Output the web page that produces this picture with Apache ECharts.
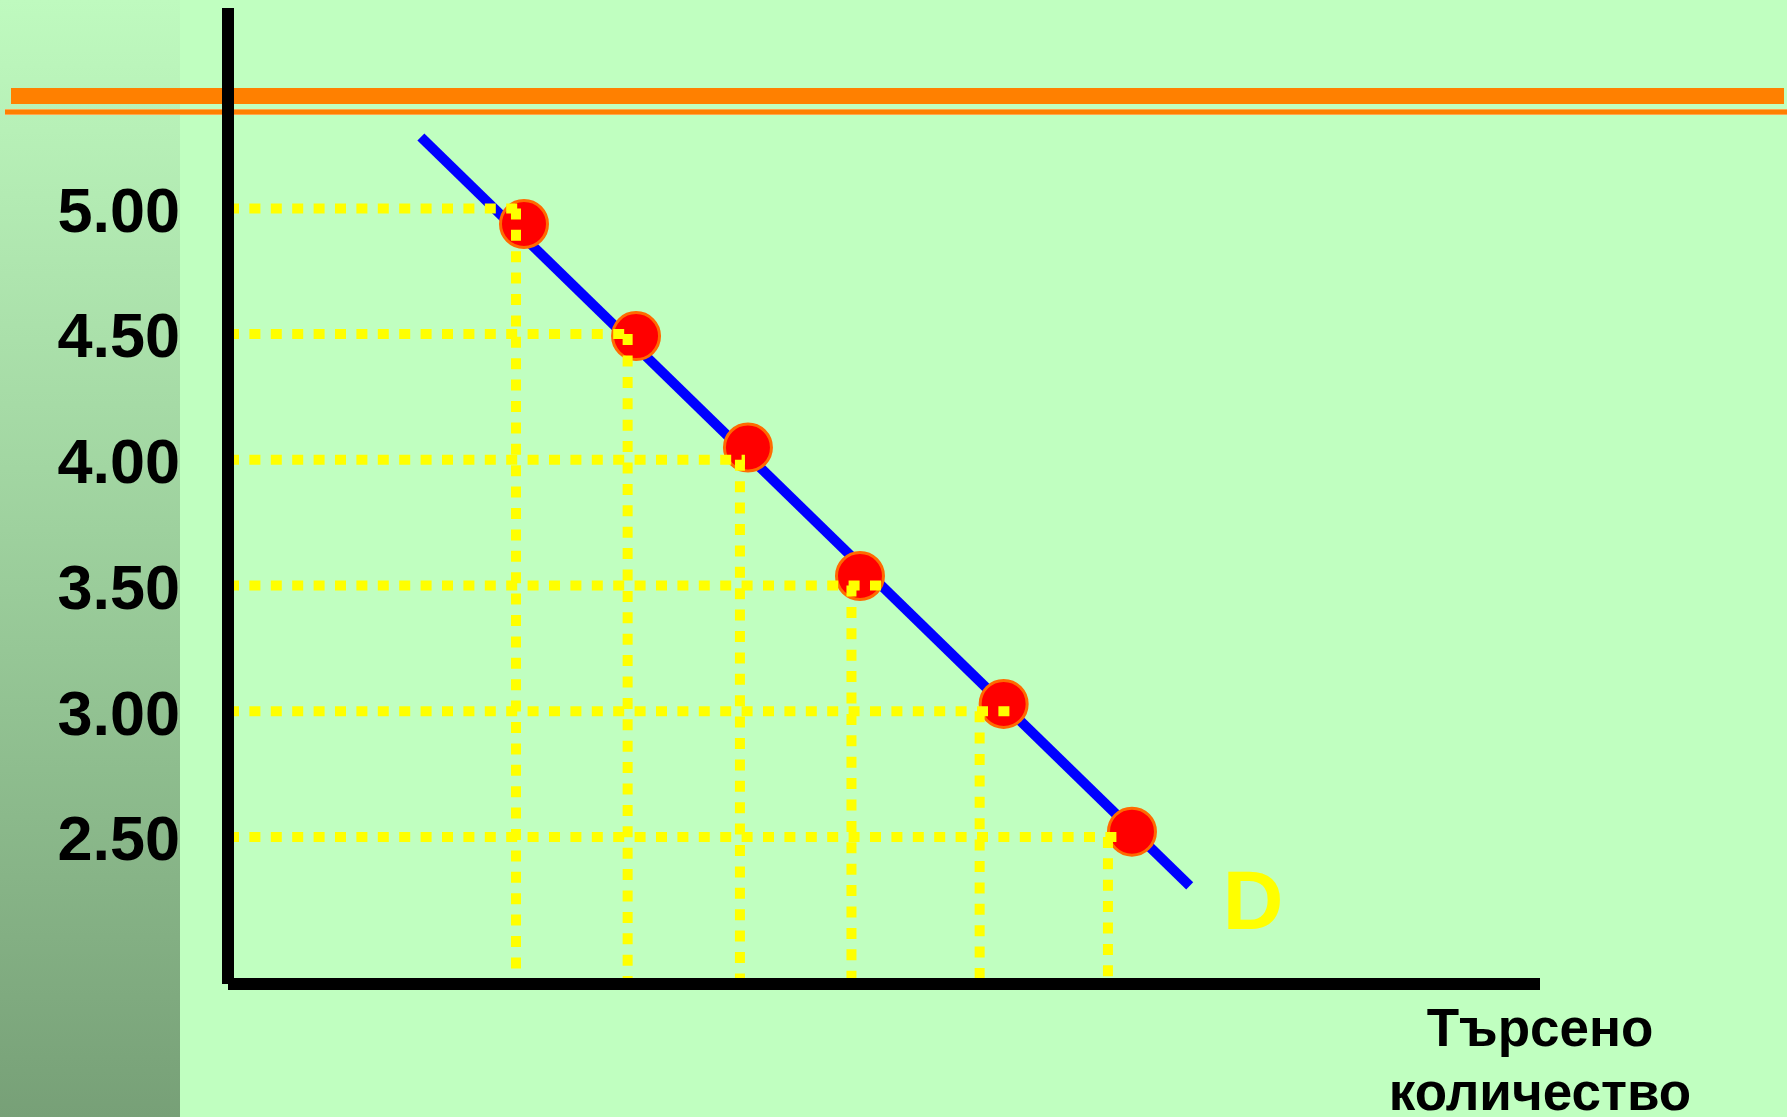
<!DOCTYPE html>
<html>
<head>
<meta charset="utf-8">
<script src="https://cdn.jsdelivr.net/npm/echarts@6/dist/echarts.min.js"></script>
<style>
  html, body { margin: 0; padding: 0; }
  #stage { position: relative; width: 1787px; height: 1117px; background: #C0FFC0; overflow: hidden; }
  #strip { position: absolute; left: 0; top: 0; width: 180px; height: 1117px;
           background: linear-gradient(to bottom, #BFFABF 0%, #A2D6A2 42%, #77A077 100%); }
  #barThick { position: absolute; left: 11px; top: 88px; width: 1773px; height: 16px; background: #FF8000; }
  #barThin { position: absolute; left: 5px; top: 109px; width: 1782px; height: 6px; background: #FF8000;
             box-shadow: inset 0 1px 0 #FFA64D, inset 0 -1px 0 #FFA64D; }
  #chart { position: absolute; left: 0; top: 0; width: 1787px; height: 1117px; }
</style>
</head>
<body>
<div id="stage">
  <div id="strip"></div>
  <div id="barThick"></div>
  <div id="barThin"></div>
  <div id="chart"></div>
</div>
<script>
// ---- data ----
const priceTicks = [5.00, 4.50, 4.00, 3.50, 3.00, 2.50];
const guideQ     = [21.95, 30.46, 39.02, 47.52, 57.29, 67.07];   // quantity of each vertical dotted guide
const guideEndQ  = [22.3, 30.5, 39.4, 49.9, 59.7, 67.9];         // where each horizontal dotted guide stops
const dotQ       = [22.56, 31.10, 39.63, 48.17, 59.12, 68.90];
const dotP       = [4.938, 4.492, 4.049, 3.538, 3.029, 2.521];
const demandQ    = [14.7, 73.3];
const demandP    = [5.284, 2.305];
const demandName = 'D';
const xAxisName  = 'Търсено\nколичество';
const qMin = 0, qMax = 100;
const pMin = 1.915, pMax = 5.797;

const FONT = "'Liberation Sans', Arial, sans-serif";

const series = [];
series.push({
  type: 'line',
  name: 'demand',
  data: demandQ.map((q, i) => [q, demandP[i]]),
  showSymbol: false,
  silent: true,
  z: 2,
  lineStyle: { color: '#0000FF', width: 10, cap: 'butt' },
  endLabel: {
    show: true,
    formatter: demandName,
    color: '#FFFF00',
    fontSize: 84,
    fontWeight: 'bold',
    fontFamily: FONT,
    distance: 33,
    offset: [0, 20]
  }
});
series.push({
  type: 'scatter',
  name: 'points',
  data: dotQ.map((q, i) => [q, dotP[i]]),
  symbol: 'circle',
  symbolSize: 47,
  z: 3,
  silent: true,
  itemStyle: { color: '#FF0000', borderColor: '#FF6A00', borderWidth: 3, opacity: 1 }
});
const guideStyle = { color: '#FFFF00', width: 10, type: [11, 10.4], cap: 'butt' };
priceTicks.forEach((p, i) => {
  series.push({
    type: 'line', silent: true, showSymbol: false, z: 4,
    data: [[qMin, p], [guideEndQ[i], p]],
    lineStyle: guideStyle
  });
  series.push({
    type: 'line', silent: true, showSymbol: false, z: 4,
    data: [[guideQ[i], p], [guideQ[i], pMin]],
    lineStyle: guideStyle
  });
});

const chart = echarts.init(document.getElementById('chart'), null, { renderer: 'canvas' });
chart.setOption({
  animation: false,
  backgroundColor: 'transparent',
  grid: { left: 228, right: 247, top: 8, bottom: 133, containLabel: false, outerBoundsMode: 'none' },
  xAxis: {
    type: 'value', min: qMin, max: qMax, z: 10,
    axisLine: { show: true, lineStyle: { color: '#000000', width: 12, cap: 'butt' } },
    axisTick: { show: false },
    axisLabel: { show: false },
    splitLine: { show: false },
    name: xAxisName,
    nameLocation: 'end',
    nameGap: 0,
    nameTextStyle: {
      align: 'center', verticalAlign: 'top',
      fontSize: 53, fontWeight: 'bold', fontFamily: FONT, color: '#000000',
      lineHeight: 64, padding: [15, 0, 0, 0]
    }
  },
  yAxis: {
    type: 'value', min: pMin, max: pMax, z: 10,
    axisLine: { show: true, lineStyle: { color: '#000000', width: 12, cap: 'butt' } },
    axisTick: { show: false },
    splitLine: { show: false },
    axisLabel: {
      show: true,
      customValues: priceTicks,
      formatter: v => Number(v).toFixed(2),
      fontSize: 63, fontWeight: 'bold', fontFamily: FONT, color: '#000000',
      margin: 48,
      verticalAlign: 'top',
      lineHeight: 12
    }
  },
  series: series
});
</script>
</body>
</html>
